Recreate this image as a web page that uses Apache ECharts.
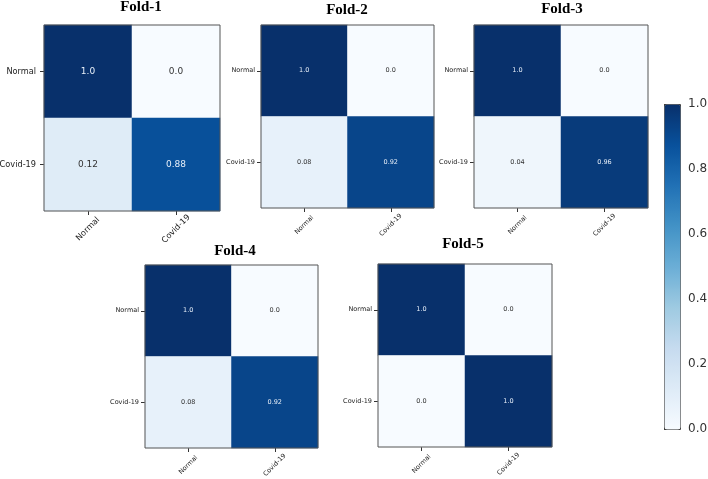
<!DOCTYPE html>
<html>
<head>
<meta charset="utf-8">
<script src="https://cdn.jsdelivr.net/npm/echarts@6/dist/echarts.min.js"></script>
<style>html,body{margin:0;padding:0;background:#fff}#c{width:708px;height:479px}</style>
</head>
<body>
<div id="c"></div>
<script>
// ---- data ----
const categories = ['Normal', 'Covid-19'];
const foldTitles = ['Fold-1', 'Fold-2', 'Fold-3', 'Fold-4', 'Fold-5'];
// rows: true class (Normal, Covid-19); columns: predicted class
const fold1 = [[1.0, 0.0], [0.12, 0.88]];
const fold2 = [[1.0, 0.0], [0.08, 0.92]];
const fold3 = [[1.0, 0.0], [0.04, 0.96]];
const fold4 = [[1.0, 0.0], [0.08, 0.92]];
const fold5 = [[1.0, 0.0], [0.0, 1.0]];
const folds = [fold1, fold2, fold3, fold4, fold5];
const colorbarMin = 0, colorbarMax = 1, colorbarStep = 0.2;

// ---- layout (px) ----
const grids = [
  {left: 44, top: 25, width: 176, height: 186},
  {left: 261, top: 25, width: 173, height: 183},
  {left: 474, top: 25, width: 174, height: 183},
  {left: 145, top: 265, width: 173, height: 183},
  {left: 378, top: 264, width: 174, height: 183}
];
const titlePos = [[141, 0], [347, 3], [562, 2], [235, 244], [463, 237]];
const fontSizes = [8.2, 6.5, 6.5, 6.5, 6.5];
const yMargins = [8, 6, 6, 6, 6];
const blues = ['#f7fbff','#deebf7','#c6dbef','#9ecae1','#6baed6','#4292c6','#2171b5','#08519c','#08306b'];
const fmt = v => Number.isInteger(v) ? v.toFixed(1) : String(v);

const option = {
  animation: false,
  backgroundColor: '#fff',
  title: foldTitles.map((t, i) => ({
    text: t, left: titlePos[i][0], top: titlePos[i][1], textAlign: 'center', padding: 0,
    textStyle: {fontFamily: 'Liberation Serif', fontWeight: 'bold', fontSize: 15, color: '#000'}
  })),
  grid: grids.map(g => Object.assign({show: true, z: 10, borderColor: '#555', borderWidth: 1,
      backgroundColor: 'transparent', outerBoundsMode: 'none', containLabel: false}, g))
    .concat([{left: 664, top: 104, width: 16, height: 325, show: false, outerBoundsMode: 'none'}]),
  xAxis: grids.map((g, i) => ({
    type: 'category', gridIndex: i, data: categories,
    axisLine: {show: false},
    axisTick: {show: true, alignWithLabel: true, length: 4, lineStyle: {color: '#333'}},
    axisLabel: {rotate: 45, align: 'center', verticalAlign: 'middle', margin: i === 0 ? 18 : 17,
      fontSize: fontSizes[i], color: '#222', fontFamily: 'DejaVu Sans', interval: 0},
    splitLine: {show: false}
  })).concat([{type: 'value', gridIndex: 5, show: false, min: 0, max: 1}]),
  yAxis: grids.map((g, i) => ({
    type: 'category', gridIndex: i, data: categories, inverse: true,
    axisLine: {show: false},
    axisTick: {show: true, alignWithLabel: true, length: 4, lineStyle: {color: '#333'}},
    axisLabel: {margin: yMargins[i], fontSize: fontSizes[i], color: '#222', fontFamily: 'DejaVu Sans', interval: 0},
    splitLine: {show: false}
  })).concat([{
    type: 'value', gridIndex: 5, position: 'right', min: colorbarMin, max: colorbarMax, interval: colorbarStep,
    axisLine: {show: false},
    axisTick: {show: true, length: 4, lineStyle: {color: '#333'}},
    axisLabel: {margin: 8, fontSize: 12, color: '#333', fontFamily: 'DejaVu Sans', formatter: v => v.toFixed(1)},
    splitLine: {show: false}
  }]),
  visualMap: {
    type: 'continuous', min: colorbarMin, max: colorbarMax, seriesIndex: [0, 1, 2, 3, 4],
    calculable: false, show: true, orient: 'vertical',
    left: 664, top: 104, itemWidth: 16, itemHeight: 325, padding: 0,
    text: null, borderColor: '#444', borderWidth: 1,
    inRange: {color: blues}
  },
  series: folds.map((m, i) => ({
    type: 'heatmap', xAxisIndex: i, yAxisIndex: i,
    data: m.flatMap((row, r) => row.map((v, c) => ({
      value: [c, r, v],
      label: {color: v > 0.5 ? '#e6eef8' : '#333'}
    }))),
    label: {show: true, fontSize: i === 0 ? 9 : 6.5, fontFamily: 'DejaVu Sans',
      formatter: p => fmt(p.value[2])},
    itemStyle: {borderWidth: 0}
  }))
};

const chart = echarts.init(document.getElementById('c'), null, {renderer: 'canvas'});
chart.setOption(option);
</script>
</body>
</html>
